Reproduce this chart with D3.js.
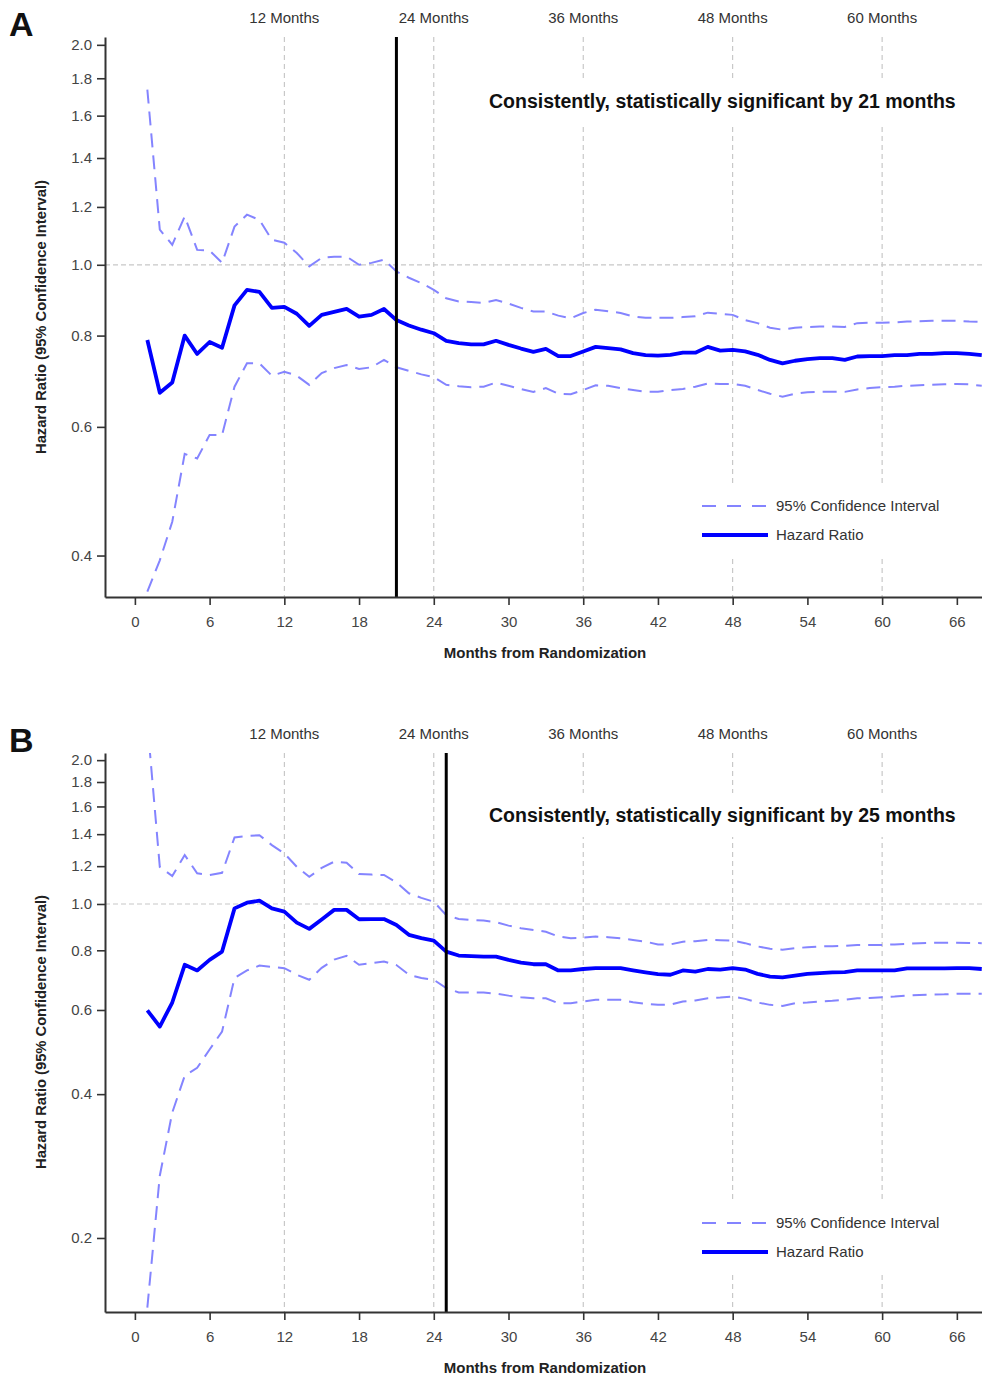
<!DOCTYPE html>
<html>
<head>
<meta charset="utf-8">
<script src="https://cdn.jsdelivr.net/npm/d3@7"></script>
<style>
  body { margin: 0; background: #fff; }
  svg { display: block; font-family: "Liberation Sans", Arial, sans-serif; }
</style>
</head>
<body>
<div id="wrapper"></div>
<script>
// months from randomization (one point per month)
const months = [1, 2, 3, 4, 5, 6, 7, 8, 9, 10, 11, 12, 13, 14, 15, 16, 17, 18, 19, 20,
  21, 22, 23, 24, 25, 26, 27, 28, 29, 30, 31, 32, 33, 34, 35, 36, 37, 38, 39, 40,
  41, 42, 43, 44, 45, 46, 47, 48, 49, 50, 51, 52, 53, 54, 55, 56, 57, 58, 59, 60,
  61, 62, 63, 64, 65, 66, 67, 68];

// panel A
const hrA = [0.789, 0.668, 0.69, 0.80, 0.755, 0.784, 0.77, 0.88, 0.924, 0.918, 0.873, 0.876, 0.857, 0.825, 0.854, 0.862, 0.87, 0.849, 0.854, 0.87,
  0.84, 0.826, 0.815, 0.806, 0.787, 0.781, 0.778, 0.778, 0.787, 0.777, 0.768, 0.76, 0.767, 0.75, 0.75, 0.761, 0.772, 0.769, 0.766, 0.757,
  0.752, 0.751, 0.753, 0.758, 0.758, 0.772, 0.763, 0.765, 0.761, 0.753, 0.741, 0.733, 0.739, 0.743, 0.745, 0.745, 0.741, 0.749, 0.75, 0.75,
  0.752, 0.752, 0.755, 0.755, 0.757, 0.757, 0.755, 0.752];
const upperA = [1.737, 1.117, 1.065, 1.165, 1.048, 1.046, 1.006, 1.128, 1.171, 1.152, 1.082, 1.072, 1.038, 0.995, 1.022, 1.026, 1.026, 1.0, 1.006, 1.016,
  0.979, 0.96, 0.944, 0.924, 0.90, 0.891, 0.889, 0.887, 0.895, 0.885, 0.873, 0.863, 0.863, 0.852, 0.845, 0.859, 0.868, 0.864, 0.859, 0.85,
  0.846, 0.846, 0.846, 0.848, 0.85, 0.86, 0.857, 0.854, 0.84, 0.832, 0.82, 0.815, 0.82, 0.822, 0.823, 0.823, 0.822, 0.832, 0.833, 0.833,
  0.834, 0.836, 0.837, 0.838, 0.838, 0.838, 0.836, 0.835];
const lowerA = [0.357, 0.394, 0.445, 0.551, 0.543, 0.585, 0.585, 0.681, 0.733, 0.733, 0.705, 0.714, 0.705, 0.685, 0.711, 0.722, 0.729, 0.72, 0.724, 0.741,
  0.724, 0.716, 0.708, 0.702, 0.685, 0.682, 0.68, 0.681, 0.69, 0.683, 0.676, 0.67, 0.678, 0.666, 0.665, 0.674, 0.684, 0.683, 0.678, 0.674,
  0.67, 0.67, 0.674, 0.676, 0.681, 0.688, 0.687, 0.687, 0.683, 0.674, 0.666, 0.66, 0.666, 0.669, 0.67, 0.67, 0.67, 0.675, 0.678, 0.68,
  0.681, 0.683, 0.684, 0.685, 0.686, 0.687, 0.686, 0.683];

// panel B
const hrB = [0.599, 0.554, 0.622, 0.746, 0.726, 0.764, 0.795, 0.979, 1.006, 1.016, 0.979, 0.964, 0.914, 0.887, 0.928, 0.972, 0.972, 0.929, 0.93, 0.93,
  0.904, 0.862, 0.848, 0.838, 0.795, 0.78, 0.778, 0.776, 0.776, 0.764, 0.754, 0.748, 0.748, 0.726, 0.726, 0.731, 0.734, 0.734, 0.734, 0.726,
  0.719, 0.713, 0.711, 0.726, 0.722, 0.731, 0.729, 0.734, 0.729, 0.714, 0.705, 0.702, 0.708, 0.714, 0.717, 0.719, 0.72, 0.726, 0.726, 0.726,
  0.726, 0.733, 0.733, 0.733, 0.733, 0.734, 0.734, 0.731];
const upperB = [2.4, 1.196, 1.144, 1.266, 1.159, 1.15, 1.162, 1.378, 1.387, 1.393, 1.328, 1.276, 1.196, 1.14, 1.19, 1.226, 1.22, 1.155, 1.152, 1.15,
  1.11, 1.053, 1.03, 1.011, 0.948, 0.93, 0.926, 0.923, 0.916, 0.901, 0.89, 0.882, 0.875, 0.855, 0.848, 0.85, 0.855, 0.852, 0.848, 0.841,
  0.834, 0.823, 0.823, 0.834, 0.836, 0.841, 0.84, 0.838, 0.828, 0.815, 0.806, 0.802, 0.808, 0.812, 0.815, 0.816, 0.817, 0.821, 0.821, 0.821,
  0.823, 0.825, 0.828, 0.83, 0.83, 0.83, 0.829, 0.828];
const lowerB = [0.143, 0.27, 0.366, 0.437, 0.454, 0.496, 0.541, 0.70, 0.726, 0.743, 0.738, 0.734, 0.711, 0.694, 0.735, 0.765, 0.779, 0.746, 0.752, 0.758,
  0.745, 0.711, 0.70, 0.694, 0.667, 0.653, 0.653, 0.653, 0.649, 0.643, 0.638, 0.635, 0.635, 0.62, 0.62, 0.625, 0.63, 0.63, 0.63, 0.623,
  0.618, 0.615, 0.616, 0.625, 0.628, 0.635, 0.637, 0.64, 0.633, 0.622, 0.615, 0.612, 0.62, 0.622, 0.625, 0.627, 0.63, 0.635, 0.636, 0.638,
  0.64, 0.643, 0.645, 0.646, 0.647, 0.649, 0.649, 0.649];

const xTicks = [0, 6, 12, 18, 24, 30, 36, 42, 48, 54, 60, 66];
const gridMonths = [12, 24, 36, 48, 60];
const yTicksA = [0.4, 0.6, 0.8, 1.0, 1.2, 1.4, 1.6, 1.8, 2.0];
const yTicksB = [0.2, 0.4, 0.6, 0.8, 1.0, 1.2, 1.4, 1.6, 1.8, 2.0];
const significantA = 21;
const significantB = 25;

const width = 982, height = 1377;
const svg = d3.select("#wrapper").append("svg")
  .attr("width", width)
  .attr("height", height);

const left = 105, right = 983;
const x = d3.scaleLinear().domain([-2.4, 68.1]).range([left, right]);

function panel(opts) {
  const y = d3.scaleLog().domain(opts.yDomain).range([opts.bottom, opts.top]);
  const g = svg.append("g");

  const clipId = "clip" + opts.letter;
  svg.append("clipPath").attr("id", clipId)
    .append("rect")
    .attr("x", left).attr("y", opts.top)
    .attr("width", right - left).attr("height", opts.bottom - opts.top);

  // grid lines
  g.selectAll(".vgrid")
    .data(gridMonths)
    .enter()
    .append("line")
    .attr("x1", d => x(d)).attr("x2", d => x(d))
    .attr("y1", opts.top).attr("y2", opts.bottom)
    .attr("stroke", "#bdbdbd")
    .attr("stroke-width", 1)
    .attr("stroke-dasharray", "5,4");
  g.append("line")
    .attr("x1", left).attr("x2", right)
    .attr("y1", y(1)).attr("y2", y(1))
    .attr("stroke", "#c8c8c8")
    .attr("stroke-width", 1.2)
    .attr("stroke-dasharray", "5,3");

  // white boxes behind annotation and legend break the grid lines
  g.append("rect")
    .attr("x", 480).attr("y", opts.noteY - 22)
    .attr("width", 486).attr("height", 44)
    .attr("fill", "#fff");
  g.append("rect")
    .attr("x", 690).attr("y", opts.legendY - 20)
    .attr("width", 262).attr("height", 70)
    .attr("fill", "#fff");

  // top month labels
  g.selectAll(".toplab")
    .data(gridMonths)
    .enter()
    .append("text")
    .attr("x", d => x(d))
    .attr("y", opts.top - 14)
    .attr("text-anchor", "middle")
    .attr("font-size", 15)
    .attr("fill", "#333")
    .text(d => d + " Months");

  const line = d3.line()
    .x((d, i) => x(months[i]))
    .y(d => y(d));

  const plot = g.append("g").attr("clip-path", "url(#" + clipId + ")");
  [opts.upper, opts.lower].forEach(s => {
    plot.append("path")
      .attr("d", line(s))
      .attr("fill", "none")
      .attr("stroke", "#8484ff")
      .attr("stroke-width", 2)
      .attr("stroke-dasharray", "14,8");
  });
  plot.append("path")
    .attr("d", line(opts.hr))
    .attr("fill", "none")
    .attr("stroke", "#0000ff")
    .attr("stroke-width", 3.8)
    .attr("stroke-linejoin", "round");

  // significance line
  g.append("line")
    .attr("x1", x(opts.sig)).attr("x2", x(opts.sig))
    .attr("y1", opts.top).attr("y2", opts.bottom)
    .attr("stroke", "#000")
    .attr("stroke-width", 3);

  // axes
  const yAxis = g.append("g")
    .attr("transform", "translate(" + left + ",0)")
    .call(d3.axisLeft(y).tickValues(opts.yTicks).tickFormat(d3.format(".1f")).tickSize(8).tickSizeOuter(0));
  const xAxis = g.append("g")
    .attr("transform", "translate(0," + opts.bottom + ")")
    .call(d3.axisBottom(x).tickValues(xTicks).tickSize(8).tickSizeOuter(0).tickPadding(11));
  [yAxis, xAxis].forEach(a => {
    a.select(".domain").attr("stroke", "#333").attr("stroke-width", 2);
    a.selectAll(".tick line").attr("stroke", "#333").attr("stroke-width", 1.6);
    a.selectAll(".tick text").attr("font-size", 15).attr("fill", "#444")
      .attr("font-family", "Liberation Sans, Arial, sans-serif");
  });
  yAxis.selectAll(".tick text").attr("x", -13);

  // axis titles
  g.append("text")
    .attr("transform", "translate(46," + opts.yTitleY + ") rotate(-90)")
    .attr("text-anchor", "middle")
    .attr("font-size", 14)
    .attr("font-weight", "bold")
    .attr("fill", "#222")
    .attr("textLength", 274)
    .attr("lengthAdjust", "spacingAndGlyphs")
    .text("Hazard Ratio (95% Confidence Interval)");
  g.append("text")
    .attr("x", 545)
    .attr("y", opts.bottom + 61)
    .attr("text-anchor", "middle")
    .attr("font-size", 15)
    .attr("font-weight", "bold")
    .attr("fill", "#222")
    .text("Months from Randomization");

  // panel letter
  g.append("text")
    .attr("x", 9)
    .attr("y", opts.top - 1)
    .attr("font-size", 34)
    .attr("font-weight", "bold")
    .attr("fill", "#111")
    .text(opts.letter);

  // annotation
  g.append("text")
    .attr("x", 489)
    .attr("y", opts.noteY + 7)
    .attr("font-size", 19.5)
    .attr("font-weight", "bold")
    .attr("fill", "#111")
    .text("Consistently, statistically significant by " + opts.sig + " months");

  // legend
  const lg = g.append("g");
  lg.append("line")
    .attr("x1", 702).attr("x2", 766)
    .attr("y1", opts.legendY).attr("y2", opts.legendY)
    .attr("stroke", "#8484ff").attr("stroke-width", 2)
    .attr("stroke-dasharray", "14,11");
  lg.append("text")
    .attr("x", 776).attr("y", opts.legendY + 5)
    .attr("font-size", 15).attr("fill", "#333")
    .text("95% Confidence Interval");
  lg.append("line")
    .attr("x1", 702).attr("x2", 768)
    .attr("y1", opts.legendY + 29).attr("y2", opts.legendY + 29)
    .attr("stroke", "#0000ff").attr("stroke-width", 3.8);
  lg.append("text")
    .attr("x", 776).attr("y", opts.legendY + 34)
    .attr("font-size", 15).attr("fill", "#333")
    .text("Hazard Ratio");
}

panel({
  letter: "A", top: 37, bottom: 597, yDomain: [0.351, 2.05], yTicks: yTicksA,
  hr: hrA, upper: upperA, lower: lowerA, sig: significantA,
  noteY: 101, legendY: 506, yTitleY: 317
});
panel({
  letter: "B", top: 753, bottom: 1312, yDomain: [0.14, 2.07], yTicks: yTicksB,
  hr: hrB, upper: upperB, lower: lowerB, sig: significantB,
  noteY: 815, legendY: 1223, yTitleY: 1032
});
</script>
</body>
</html>
